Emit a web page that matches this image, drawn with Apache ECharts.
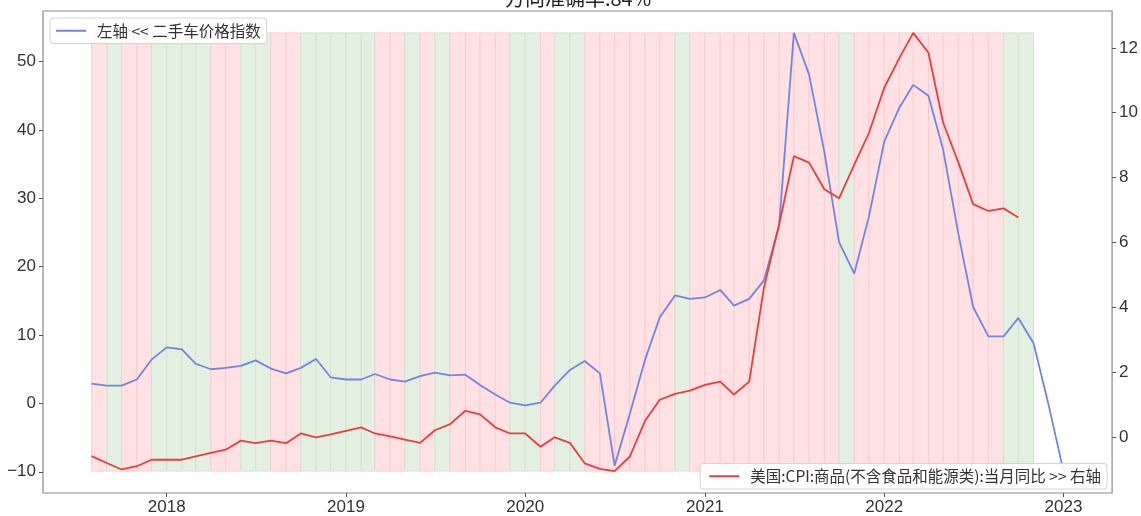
<!DOCTYPE html>
<html>
<head>
<meta charset="utf-8">
<script src="https://cdn.jsdelivr.net/npm/echarts@6/dist/echarts.min.js"></script>
<style>
html, body { margin: 0; padding: 0; background: #fff; }
#chart { width: 1141px; height: 516px; }
</style>
</head>
<body>
<div id="chart"></div>
<script>
// monthly observations, first day of each month
const months = [
  '2017-08', '2017-09', '2017-10', '2017-11', '2017-12',
  '2018-01', '2018-02', '2018-03', '2018-04', '2018-05', '2018-06', '2018-07', '2018-08', '2018-09', '2018-10', '2018-11', '2018-12',
  '2019-01', '2019-02', '2019-03', '2019-04', '2019-05', '2019-06', '2019-07', '2019-08', '2019-09', '2019-10', '2019-11', '2019-12',
  '2020-01', '2020-02', '2020-03', '2020-04', '2020-05', '2020-06', '2020-07', '2020-08', '2020-09', '2020-10', '2020-11', '2020-12',
  '2021-01', '2021-02', '2021-03', '2021-04', '2021-05', '2021-06', '2021-07', '2021-08', '2021-09', '2021-10', '2021-11', '2021-12',
  '2022-01', '2022-02', '2022-03', '2022-04', '2022-05', '2022-06', '2022-07', '2022-08', '2022-09', '2022-10', '2022-11', '2022-12',
  '2023-01'
];

// 二手车价格指数 (left axis)
const usedCarIndex = [
  2.9, 2.6, 2.6, 3.5, 6.4,
  8.2, 7.9, 5.8, 5.0, 5.2, 5.5, 6.3, 5.1, 4.4, 5.2, 6.5, 3.8,
  3.5, 3.5, 4.3, 3.5, 3.2, 4.0, 4.5, 4.1, 4.2, 2.7, 1.3, 0.1,
  -0.3, 0.1, 2.6, 4.9, 6.2, 4.4, -9.1, -1.5, 6.4, 12.6, 15.8, 15.3,
  15.5, 16.6, 14.3, 15.3, 18.0, 26.0, 54.2, 48.1, 36.8, 23.6, 19.0, 27.4,
  38.3, 43.3, 46.6, 45.0, 37.1, 24.8, 14.1, 9.8, 9.8, 12.5, 8.8, 0.0,
  -9.9
];

// 美国:CPI:商品(不含食品和能源类):当月同比 (right axis), 2017-08 .. 2022-10
const coreGoodsCpi = [
  -0.59, -0.8, -1.0, -0.9, -0.7,
  -0.7, -0.7, -0.6, -0.49, -0.39, -0.11, -0.19, -0.11, -0.19, 0.11, -0.01, 0.08,
  0.19, 0.3, 0.11, 0.02, -0.08, -0.18, 0.21, 0.4, 0.81, 0.7, 0.3, 0.11,
  0.11, -0.3, -0.01, -0.18, -0.81, -0.98, -1.05, -0.6, 0.5, 1.15, 1.33, 1.43,
  1.61, 1.71, 1.31, 1.71, 4.6, 6.56, 8.66, 8.46, 7.64, 7.36, 8.4, 9.38,
  10.77, 11.69, 12.46, 11.85, 9.69, 8.46, 7.18, 6.97, 7.05, 6.77
];

// monthly background band: 'r' = red, 'g' = green (2017-08 .. 2022-10)
const bandColors = [
  'r', 'g', 'r', 'r', 'g',
  'g', 'g', 'g', 'r', 'r', 'g', 'g', 'r', 'r', 'g', 'g', 'g',
  'g', 'g', 'r', 'r', 'g', 'r', 'g', 'r', 'r', 'r', 'r', 'g',
  'g', 'r', 'g', 'g', 'r', 'r', 'r', 'r', 'r', 'r', 'g', 'r',
  'r', 'r', 'r', 'r', 'r', 'r', 'r', 'r', 'r', 'g', 'r', 'r',
  'r', 'r', 'r', 'r', 'r', 'r', 'r', 'r', 'g', 'g'
];

const leftTicks = [-10, 0, 10, 20, 30, 40, 50];
const rightTicks = [0, 2, 4, 6, 8, 10, 12];
const yearTicks = ['2018', '2019', '2020', '2021', '2022', '2023'];

const titleText = '方向准确率:84%';
const leftName = '左轴 << 二手车价格指数';
const rightName = '美国:CPI:商品(不含食品和能源类):当月同比 >> 右轴';

function monthTime(s) {
  const [y, m] = s.split('-').map(Number);
  return Date.UTC(y, m - 1, 1);
}

function yearTime(s) {
  return Date.UTC(Number(s), 0, 1);
}

function padRange(values) {
  const lo = Math.min(...values);
  const hi = Math.max(...values);
  const pad = (hi - lo) * 0.05;
  return { lo, hi, min: lo - pad, max: hi + pad };
}

function fmtNum(v) {
  return v < 0 ? '\u2212' + Math.abs(v) : String(v);
}

const times = months.map(monthTime);
const leftRange = padRange(usedCarIndex);
const rightRange = padRange(coreGoodsCpi);
const xPad = (times[times.length - 1] - times[0]) * 0.05;
const yearTimes = yearTicks.map(yearTime);

const bandData = bandColors.map((c, i) => [times[i], times[i + 1], leftRange.lo, leftRange.hi, c === 'r' ? 1 : 0]);

const axisFont = { fontFamily: 'Liberation Sans', fontSize: 17, color: '#333' };
const legendFont = { fontFamily: 'Noto Sans CJK SC', fontSize: 15.5, color: '#333', padding: [0, 0, 0, 6] };

const legendBase = {
  icon: 'rect',
  itemWidth: 30,
  itemHeight: 2,
  backgroundColor: 'rgba(255,255,255,0.9)',
  borderColor: '#d4d4d4',
  borderWidth: 1,
  borderRadius: 3,
  textStyle: legendFont
};

const chart = echarts.init(document.getElementById('chart'), null, { renderer: 'canvas' });

chart.setOption({
  animation: false,
  backgroundColor: '#fff',
  graphic: [{
    type: 'text',
    x: 578,
    y: -12,
    style: {
      text: titleText,
      align: 'center',
      fontFamily: 'Noto Sans CJK SC',
      fontSize: 20,
      fill: '#222'
    }
  }],
  grid: {
    left: 43,
    right: 28,
    top: 11,
    bottom: 23,
    show: true,
    borderColor: '#8a8a8a',
    borderWidth: 1.2
  },
  legend: [
    {
      ...legendBase,
      data: [leftName],
      left: 50,
      top: 18,
      padding: [5, 6, 5, 6]
    },
    {
      ...legendBase,
      data: [rightName],
      right: 34,
      bottom: 27,
      padding: [5, 6, 5, 9]
    }
  ],
  xAxis: {
    type: 'value',
    min: times[0] - xPad,
    max: times[times.length - 1] + xPad,
    axisLine: { show: false, onZero: false },
    splitLine: { show: false },
    axisTick: {
      show: true,
      length: 4,
      customValues: yearTimes,
      lineStyle: { color: '#555' }
    },
    axisLabel: {
      ...axisFont,
      margin: 6,
      customValues: yearTimes,
      formatter: (v) => String(new Date(v).getUTCFullYear())
    }
  },
  yAxis: [
    {
      type: 'value',
      position: 'left',
      min: leftRange.min,
      max: leftRange.max,
      axisLine: { show: false, onZero: false },
      splitLine: { show: false },
      axisTick: {
        show: true,
        length: 4,
        customValues: leftTicks,
        lineStyle: { color: '#555' }
      },
      axisLabel: {
        ...axisFont,
        margin: 7,
        customValues: leftTicks,
        formatter: fmtNum
      }
    },
    {
      type: 'value',
      position: 'right',
      min: rightRange.min,
      max: rightRange.max,
      axisLine: { show: false, onZero: false },
      splitLine: { show: false },
      axisTick: {
        show: true,
        length: 4,
        customValues: rightTicks,
        lineStyle: { color: '#555' }
      },
      axisLabel: {
        ...axisFont,
        margin: 7,
        customValues: rightTicks,
        formatter: fmtNum
      }
    }
  ],
  series: [
    {
      name: 'bands',
      type: 'custom',
      xAxisIndex: 0,
      yAxisIndex: 0,
      silent: true,
      z: 1,
      dimensions: ['start', 'end', 'lo', 'hi', 'flag'],
      encode: { x: [0, 1], y: [2, 3] },
      data: bandData,
      renderItem: (params, api) => {
        const p0 = api.coord([api.value(0), api.value(3)]);
        const p1 = api.coord([api.value(1), api.value(2)]);
        const red = api.value(4) === 1;
        return {
          type: 'rect',
          shape: { x: p0[0], y: p0[1], width: p1[0] - p0[0], height: p1[1] - p0[1] },
          style: {
            fill: red ? '#ffe1e4' : '#e3f0e1',
            stroke: red ? '#f8cdd2' : '#d2e3cf',
            lineWidth: 1
          }
        };
      }
    },
    {
      name: leftName,
      type: 'line',
      yAxisIndex: 0,
      z: 3,
      symbol: 'none',
      color: '#7284e0',
      lineStyle: { width: 1.8, color: '#7284e0' },
      data: usedCarIndex.map((v, i) => [times[i], v])
    },
    {
      name: rightName,
      type: 'line',
      yAxisIndex: 1,
      z: 3,
      symbol: 'none',
      color: '#f03b3b',
      lineStyle: { width: 1.8, color: '#f03b3b' },
      data: coreGoodsCpi.map((v, i) => [times[i], v])
    }
  ]
});
</script>
</body>
</html>
